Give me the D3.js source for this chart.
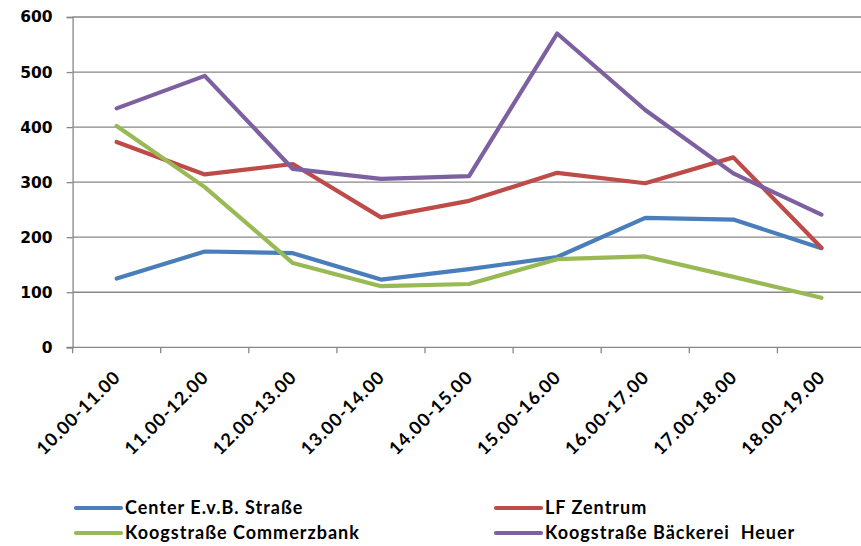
<!DOCTYPE html>
<html>
<head>
<meta charset="utf-8">
<script src="https://cdn.jsdelivr.net/npm/d3@7"></script>
<style>
  html, body { margin: 0; padding: 0; background: #fff; }
  svg { display: block; }
</style>
</head>
<body>
<svg id="chart" width="861" height="546"></svg>
<script>
// Hourly counts per counting location
const categories = ["10.00-11.00", "11.00-12.00", "12.00-13.00", "13.00-14.00", "14.00-15.00",
                    "15.00-16.00", "16.00-17.00", "17.00-18.00", "18.00-19.00"];
const centerEvB   = [125, 174, 171, 123, 142, 164, 235, 232, 180];
const lfZentrum   = [373, 314, 333, 236, 266, 317, 298, 345, 181];
const commerzbank = [402, 291, 153, 111, 115, 160, 165, 128, 90];
const baeckerei   = [434, 493, 324, 306, 311, 570, 431, 316, 241];
const seriesNames = ["Center E.v.B. Straße", "LF Zentrum", "Koogstraße Commerzbank", "Koogstraße Bäckerei  Heuer"];
const seriesColors = ["#4A7EBB", "#BE4B48", "#98B954", "#7D60A0"];
const yTicks = [0, 100, 200, 300, 400, 500, 600];

const series = [centerEvB, lfZentrum, commerzbank, baeckerei].map((values, i) => ({
  name: seriesNames[i], color: seriesColors[i], values
}));

const svg = d3.select("#chart");
const labelFont = "Lato, 'Open Sans', sans-serif";
const numFont = "'DejaVu Sans', Verdana, sans-serif";

const x = d3.scaleBand().domain(categories).range([72.6, 865.5]).padding(0);
const y = d3.scaleLinear().domain([0, 600]).range([347.3, 17]);
const gridColor = "#878787";

// horizontal gridlines + value axis
const yAxis = d3.axisLeft(y).tickValues(yTicks).tickSize(6).tickPadding(14)
  .tickFormat(d3.format("d"));
const gy = svg.append("g").attr("transform", `translate(${x.range()[0]},0)`).call(yAxis);
gy.select(".domain").attr("stroke", gridColor).attr("stroke-width", 1.3);
gy.selectAll(".tick line").attr("stroke", gridColor).attr("stroke-width", 1.3);
gy.selectAll(".tick text")
  .attr("font-family", numFont).attr("font-weight", "bold").attr("font-size", 15.5)
  .attr("fill", "#000");

svg.append("g").selectAll("line").data(yTicks.filter(d => d > 0)).join("line")
  .attr("x1", x.range()[0]).attr("x2", x.range()[1])
  .attr("y1", d => y(d)).attr("y2", d => y(d))
  .attr("stroke", gridColor).attr("stroke-width", 1.3);

// category axis with boundary ticks
const gx = svg.append("g").attr("transform", `translate(0,${y(0)})`);
gx.append("line").attr("x1", x.range()[0] - 6).attr("x2", x.range()[1])
  .attr("stroke", gridColor).attr("stroke-width", 1.3);
const boundaries = categories.map(c => x(c)).concat([x.range()[1]]);
gx.selectAll("line.tick").data(boundaries).join("line").attr("class", "tick")
  .attr("x1", d => d).attr("x2", d => d).attr("y1", 0).attr("y2", 6)
  .attr("stroke", gridColor).attr("stroke-width", 1.3);
gx.selectAll("text").data(categories).join("text")
  .attr("transform", d => `translate(${x(d) + x.bandwidth() / 2 + 5},${31}) rotate(-45)`)
  .attr("text-anchor", "end")
  .attr("font-family", labelFont).attr("font-weight", "bold").attr("font-size", 18)
  .attr("letter-spacing", 1)
  .attr("fill", "#000")
  .text(d => d);

// lines
const line = d3.line()
  .x((d, i) => x(categories[i]) + x.bandwidth() / 2)
  .y(d => y(d));
svg.append("g").selectAll("path").data(series).join("path")
  .attr("d", s => line(s.values))
  .attr("fill", "none").attr("stroke", s => s.color)
  .attr("stroke-width", 4.2).attr("stroke-linejoin", "round").attr("stroke-linecap", "round");

// legend
const legendPos = [[76, 508], [496, 508], [76, 533], [496, 533]];
const lg = svg.append("g").selectAll("g").data(series).join("g")
  .attr("transform", (s, i) => `translate(${legendPos[i][0]},${legendPos[i][1]})`);
lg.append("line").attr("x1", 0).attr("x2", 45).attr("y1", 0).attr("y2", 0)
  .attr("stroke", s => s.color).attr("stroke-width", 4.2).attr("stroke-linecap", "round");
lg.append("text").attr("x", 49).attr("y", 0).attr("dy", "0.35em")
  .attr("font-family", labelFont).attr("font-weight", "bold").attr("font-size", 18)
  .attr("letter-spacing", 1)
  .attr("fill", "#000").attr("xml:space", "preserve")
  .text(s => s.name);
</script>
</body>
</html>
